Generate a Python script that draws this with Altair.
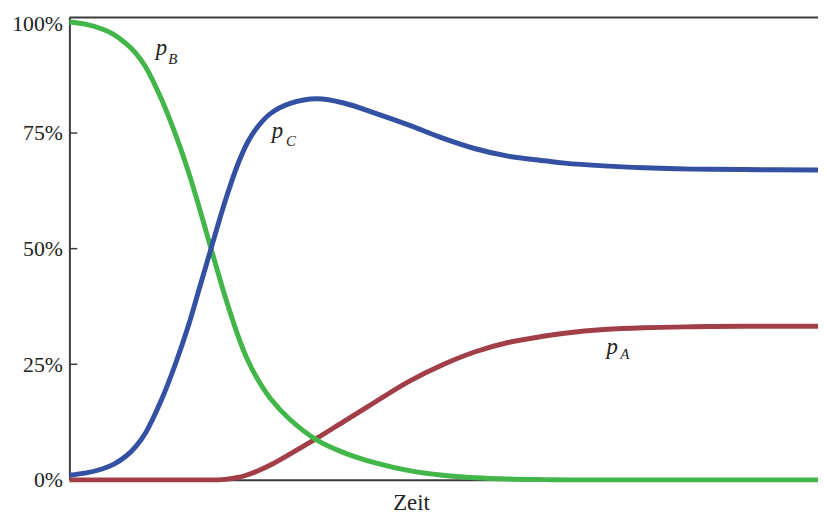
import altair as alt
import pandas as pd

# Time (arbitrary units, 0..100 across the plot) and shares in percent
time = [0, 2.25, 4.37, 5.95, 7.54, 8.86, 10.19, 12.30, 14.15, 15.87, 17.20, 18.92, 19.84,
        20.77, 22.49, 23.81, 25.13, 26.85, 29.50, 33.07, 36.64, 41.01, 45.37,
        49.87, 54.23, 58.60, 63.49, 66.14, 71.43, 76.72, 83.33, 89.95, 100]
p_A = [0, 0, 0, 0, 0, 0, 0, 0, 0, 0, 0, 0, 0,
       0.1, 0.5, 1.1, 1.9, 3.2, 5.6, 9.0, 12.6, 17.0, 21.3,
       24.9, 27.7, 29.7, 31.1, 31.7, 32.5, 32.9, 33.1, 33.2, 33.2]
p_B = [99.0, 98.5, 97.5, 96.3, 94.4, 92.3, 89.3, 82.3, 74.8, 66.8, 59.7, 50.0, 44.9,
       39.8, 31.3, 25.9, 21.8, 17.6, 13.0, 8.6, 5.9, 3.6, 2.0,
       1.0, 0.45, 0.18, 0.05, 0, 0, 0, 0, 0, 0]
p_C = [1.0, 1.5, 2.35, 3.4, 5.1, 7.2, 10.2, 17.3, 25.0, 33.2, 40.5, 50.0, 55.1,
       60.1, 68.2, 73.0, 76.3, 79.2, 81.4, 82.4, 81.5, 79.2, 76.7,
       73.9, 71.6, 70.0, 69.0, 68.5, 67.9, 67.5, 67.2, 67.1, 67.0]

y_values = [0, 0.25, 0.5, 0.75, 1.0]
inner_ticks = [0.25, 0.5, 0.75]

# Curve labels: letter, role, time, value (percent)
label_text = ["p", "B", "p", "C", "p", "A"]
label_role = ["main", "sub", "main", "sub", "main", "sub"]
label_t = [12.3, 13.8, 27.8, 29.6, 72.5, 74.2]
label_v = [91.9, 89.9, 73.9, 72.2, 27.2, 26.1]

series_names = ["A", "B", "C"]
series_colors = ["#a23e48", "#42b649", "#3450a2"]

rows = []
for name, vals in zip(series_names, [p_A, p_B, p_C]):
    for t, v in zip(time, vals):
        rows.append({"series": name, "t": t, "v": v / 100.0})
curves = pd.DataFrame(rows)

labels = pd.DataFrame({
    "text": label_text, "role": label_role,
    "t": label_t, "v": [v / 100.0 for v in label_v],
})
ticks_df = pd.DataFrame({"v": inner_ticks})
top_df = pd.DataFrame({"v": [1.0]})

SERIF = "Liberation Serif"
AX = "#3c3c3c"

xscale = alt.Scale(domain=[0, 100], nice=False, zero=False)
yscale = alt.Scale(domain=[0, 1], nice=False)

x_axis = alt.Axis(
    labels=False, ticks=False, grid=False, domainColor=AX, domainWidth=2,
    title="Zeit", titleFont=SERIF, titleFontSize=23, titleFontWeight="normal",
    titleColor="#222222", titleX=345, titleY=30, titleAlign="center",
    titleBaseline="alphabetic",
)
y_axis = alt.Axis(
    values=y_values, format=".0%", ticks=False, grid=False,
    domainColor=AX, domainWidth=2, labelFont=SERIF, labelFontSize=22,
    labelColor="#222222", labelPadding=7, title=None, labelBaseline="middle",
    labelOffset={"condition": {"test": "datum.value >= 1", "value": 6},
                 "value": 0},
)

X = lambda: alt.X("t:Q", scale=xscale, axis=x_axis)
Y = lambda: alt.Y("v:Q", scale=yscale, axis=y_axis)

layers = []
for name, col in zip(series_names, series_colors):
    layer = alt.Chart(curves).transform_filter(
        alt.datum.series == name
    ).mark_line(color=col, strokeWidth=5, interpolate="catmull-rom", strokeCap="butt").encode(
        x=X(), y=Y(),
    )
    layers.append(layer)

top_line = alt.Chart(top_df).mark_rule(color=AX, strokeWidth=2).encode(y=Y())
tick_marks = alt.Chart(ticks_df).mark_rule(color=AX, strokeWidth=1.5).encode(
    y=Y(), x=alt.value(0), x2=alt.value(8),
)

main_labels = alt.Chart(labels).transform_filter(alt.datum.role == "main").mark_text(
    font=SERIF, fontStyle="italic", fontSize=23, color="#222222",
    align="center", baseline="alphabetic",
).encode(x=X(), y=Y(), text="text:N")
sub_labels = alt.Chart(labels).transform_filter(alt.datum.role == "sub").mark_text(
    font=SERIF, fontStyle="italic", fontSize=15, color="#222222",
    align="center", baseline="alphabetic",
).encode(x=X(), y=Y(), text="text:N")

chart = alt.layer(
    *layers, top_line, tick_marks, main_labels, sub_labels
).properties(
    width=756, height=467,
    padding={"left": 62, "top": 7, "right": 0, "bottom": 36},
    autosize=alt.AutoSizeParams(type="none"),
).configure_view(stroke=None)

chart.save("out.html", embed_options={"renderer": "svg", "actions": False})
